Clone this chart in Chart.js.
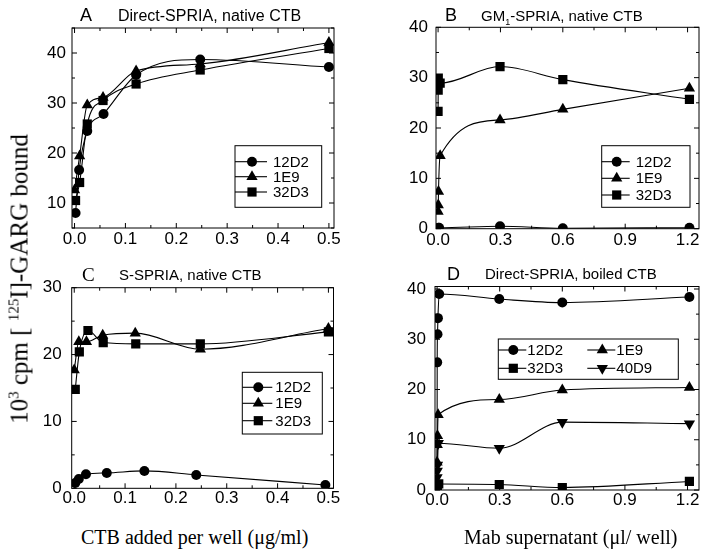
<!DOCTYPE html>
<html lang="en">
<head>
<meta charset="utf-8">
<title>SPRIA binding curves</title>
<script src="https://cdn.jsdelivr.net/npm/chart.js"></script>
<style>
  body { margin: 0; background: #fff; width: 709px; height: 555px; overflow: hidden; position: relative; }
  canvas { position: absolute; }
  .lbl { position: absolute; white-space: nowrap; line-height: 1; color: #000; }
  .sans { font-family: 'Liberation Sans', Arial, sans-serif; }
  .serif { font-family: 'Liberation Serif', 'Times New Roman', serif; }
  sup, sub { font-size: 0.6em; line-height: 0; }
</style>
</head>
<body>
<canvas id="chartA" width="354" height="250" style="left:0;top:0"></canvas>
<canvas id="chartB" width="356" height="250" style="left:353px;top:0"></canvas>
<canvas id="chartC" width="354" height="270" style="left:0;top:250px"></canvas>
<canvas id="chartD" width="356" height="270" style="left:353px;top:250px"></canvas>

<div class="lbl sans" style="left:80px;top:6px;font-size:18px">A</div>
<div class="lbl sans" style="left:118px;top:7.5px;font-size:16px">Direct-SPRIA, native CTB</div>
<div class="lbl sans" style="left:445px;top:6px;font-size:18px">B</div>
<div class="lbl sans" style="left:481px;top:7.5px;font-size:15px">GM<sub>1</sub>-SPRIA, native CTB</div>
<div class="lbl serif" style="left:82px;top:265px;font-size:19px">C</div>
<div class="lbl sans" style="left:119px;top:266.5px;font-size:15px">S-SPRIA, native CTB</div>
<div class="lbl sans" style="left:447px;top:265px;font-size:18px">D</div>
<div class="lbl sans" style="left:485px;top:265.5px;font-size:15px">Direct-SPRIA, boiled CTB</div>

<div class="lbl serif" style="left:81px;top:527px;font-size:20px">CTB added per well (μg/ml)</div>
<div class="lbl serif" style="left:464px;top:527px;font-size:20px">Mab supernatant (μl/ well)</div>
<div class="lbl serif" style="left:19px;top:279px;font-size:25px;transform:translate(-50%,-50%) rotate(-90deg)">10<sup>3</sup> cpm [ <sup>125</sup>I]-GARG bound</div>

<script>
// ---- panel A: Direct-SPRIA, native CTB ----
var xA_12D2 = [0.002, 0.009, 0.025, 0.057, 0.121, 0.247, 0.5];
var yA_12D2 = [8.0, 16.6, 24.4, 27.8, 35.6, 38.7, 37.2];
var xA_1E9  = [0.0, 0.010, 0.025, 0.056, 0.121, 0.247, 0.5];
var yA_1E9  = [12.6, 19.4, 29.6, 31.1, 36.4, 37.8, 42.1];
var xA_32D3 = [0.002, 0.010, 0.025, 0.056, 0.121, 0.247, 0.5];
var yA_32D3 = [10.5, 14.1, 25.8, 30.5, 33.8, 36.6, 40.9];

// ---- panel B: GM1-SPRIA, native CTB ----
var xB_12D2 = [0.0, 0.005, 0.298, 0.6, 1.209];
var yB_12D2 = [0.2, 0.2, 0.5, 0.1, 0.2];
var xB_1E9  = [0.0, 0.001, 0.002, 0.01, 0.298, 0.6, 1.209];
var yB_1E9  = [3.4, 4.7, 7.4, 14.5, 21.6, 23.7, 27.9];
var xB_32D3 = [0.0, 0.0005, 0.001, 0.01, 0.298, 0.6, 1.209];
var yB_32D3 = [23.3, 27.5, 29.9, 28.9, 32.2, 29.6, 25.7];

// ---- panel C: S-SPRIA, native CTB ----
var xC_12D2 = [0.002, 0.009, 0.023, 0.064, 0.138, 0.24, 0.494];
var yC_12D2 = [0.8, 1.4, 2.1, 2.3, 2.6, 2.0, 0.5];
var xC_1E9  = [0.0, 0.009, 0.024, 0.056, 0.12, 0.248, 0.5];
var yC_1E9  = [17.7, 21.9, 21.9, 22.9, 23.2, 20.8, 23.9];
var xC_32D3 = [0.002, 0.010, 0.027, 0.057, 0.121, 0.248, 0.5];
var yC_32D3 = [14.8, 20.4, 23.6, 21.8, 21.6, 21.6, 23.4];

// ---- panel D: Direct-SPRIA, boiled CTB ----
var xD_12D2 = [0.0, 0.0005, 0.002, 0.004, 0.01, 0.298, 0.6, 1.209];
var yD_12D2 = [0.8, 25.4, 31.0, 34.2, 39.0, 38.0, 37.3, 38.4];
var xD_1E9  = [0.0, 0.001, 0.002, 0.005, 0.298, 0.6, 1.209];
var yD_1E9  = [5.5, 9.0, 10.8, 15.0, 18.0, 19.9, 20.4];
var xD_32D3 = [0.0, 0.001, 0.008, 0.298, 0.6, 1.209];
var yD_32D3 = [0.2, 0.6, 1.2, 1.1, 0.5, 1.7];
var xD_40D9 = [0.0, 0.001, 0.002, 0.006, 0.298, 0.6, 1.209];
var yD_40D9 = [2.5, 3.8, 5.0, 9.3, 8.3, 13.5, 13.2];

// tick labels
var ticksCtb  = [0, 0.1, 0.2, 0.3, 0.4, 0.5];
var ticksMab  = [0, 0.3, 0.6, 0.9, 1.2];
var ticksAy   = [10, 20, 30, 40];
var ticksBy   = [0, 10, 20, 30, 40];
var ticksCy   = [0, 10, 20, 30];
var ticksDy   = [0, 10, 20, 30, 40];

var FONT = "'Liberation Sans', Arial, sans-serif";

function pts(xs, ys) {
    return xs.map((x, i) => ({ x: x, y: ys[i] }));
}

var styles = {
    '12D2': { pointStyle: 'circle', pointRadius: 5, rotation: 0 },
    '1E9':  { pointStyle: 'triangle', pointRadius: 6.5, rotation: 0 },
    '32D3': { pointStyle: 'rect', pointRadius: 6.5, rotation: 0 },
    '40D9': { pointStyle: 'triangle', pointRadius: 6.5, rotation: 180 }
};

function series(label, xs, ys) {
    var s = styles[label];
    return {
        label: label,
        data: pts(xs, ys),
        showLine: true,
        cubicInterpolationMode: 'monotone',
        borderColor: '#000',
        borderWidth: 1.1,
        pointStyle: s.pointStyle,
        pointRadius: s.pointRadius,
        rotation: s.rotation,
        pointBackgroundColor: '#000',
        pointBorderColor: '#000',
        pointBorderWidth: 0
    };
}

function drawMarker(ctx, style, x, y) {
    var r = style.pointRadius;
    ctx.beginPath();
    if (style.pointStyle === 'circle') {
        ctx.arc(x, y, r, 0, Math.PI * 2);
    } else if (style.pointStyle === 'rect') {
        var h = r * Math.SQRT1_2;
        ctx.rect(x - h, y - h, 2 * h, 2 * h);
    } else {
        var d = style.rotation ? -1 : 1;
        var w = r * Math.sin(Math.PI * 2 / 3);
        ctx.moveTo(x, y - d * r);
        ctx.lineTo(x + w, y + d * r / 2);
        ctx.lineTo(x - w, y + d * r / 2);
        ctx.closePath();
    }
    ctx.fill();
}

// frame on all four sides, inward ticks, and the boxed legend
var framePlugin = {
    id: 'frame',
    beforeDatasetsDraw(chart, args, opts) {
        var ctx = chart.ctx, a = chart.chartArea;
        var sx = chart.scales.x, sy = chart.scales.y;
        ctx.save();
        ctx.strokeStyle = '#000';
        ctx.lineWidth = 1;
        ctx.strokeRect(a.left, a.top, a.right - a.left, a.bottom - a.top);
        ctx.beginPath();
        var majX = sx.ticks.map(t => t.value), majY = sy.ticks.map(t => t.value);
        var isMaj = (list, v) => list.some(m => Math.abs(m - v) < 1e-6);
        for (var v = Math.ceil(sx.min / opts.minorX - 1e-6) * opts.minorX; v <= sx.max + 1e-9; v += opts.minorX) {
            var px = sx.getPixelForValue(v), len = isMaj(majX, v) ? 5 : 3;
            ctx.moveTo(px, a.bottom); ctx.lineTo(px, a.bottom - len);
            ctx.moveTo(px, a.top); ctx.lineTo(px, a.top + len);
        }
        for (var w = Math.ceil(sy.min / opts.minorY - 1e-6) * opts.minorY; w <= sy.max + 1e-9; w += opts.minorY) {
            var py = sy.getPixelForValue(w), l2 = isMaj(majY, w) ? 5 : 3;
            ctx.moveTo(a.left, py); ctx.lineTo(a.left + l2, py);
            ctx.moveTo(a.right, py); ctx.lineTo(a.right - l2, py);
        }
        ctx.stroke();
        ctx.restore();
    },
    afterDraw(chart, args, opts) {
        var lg = opts.legend;
        if (!lg) return;
        var ctx = chart.ctx;
        ctx.save();
        ctx.fillStyle = '#fff';
        ctx.fillRect(lg.box[0], lg.box[1], lg.box[2] - lg.box[0], lg.box[3] - lg.box[1]);
        ctx.strokeStyle = '#000';
        ctx.lineWidth = 1;
        ctx.strokeRect(lg.box[0], lg.box[1], lg.box[2] - lg.box[0], lg.box[3] - lg.box[1]);
        ctx.font = '15px ' + FONT;
        ctx.textBaseline = 'middle';
        chart.data.datasets.forEach((ds, i) => {
            var col = i % lg.cols.length, row = Math.floor(i / lg.cols.length);
            var x0 = lg.cols[col], y0 = lg.rows[row];
            var mx = x0 + lg.markerDx;
            ctx.strokeStyle = '#000';
            ctx.lineWidth = 1.1;
            ctx.beginPath();
            ctx.moveTo(x0, y0); ctx.lineTo(mx + lg.markerDx - 2, y0);
            ctx.stroke();
            ctx.fillStyle = '#000';
            drawMarker(ctx, styles[ds.label], mx, y0);
            ctx.fillText(ds.label, mx + lg.textDx, y0 + 1);
        });
        ctx.restore();
    }
};

function makeChart(id, datasets, cfg) {
    return new Chart(document.getElementById(id), {
        type: 'scatter',
        data: { datasets: datasets },
        options: {
            responsive: false,
            animation: false,
            layout: { padding: { left: 0, top: cfg.top, right: cfg.right, bottom: 0 } },
            plugins: {
                legend: { display: false },
                tooltip: { enabled: false },
                frame: { minorX: cfg.minorX, minorY: cfg.minorY, legend: cfg.legend }
            },
            scales: {
                x: {
                    type: 'linear', min: cfg.xmin, max: cfg.xmax,
                    grid: { display: false, drawTicks: false },
                    border: { display: false },
                    ticks: {
                        color: '#000', font: { family: FONT, size: 17 }, padding: cfg.xpad,
                        autoSkip: false, maxRotation: 0,
                        callback: v => Number(v).toFixed(1)
                    },
                    afterBuildTicks: s => { s.ticks = cfg.xticks.map(v => ({ value: v })); },
                    afterFit: s => { s.height = cfg.xh; }
                },
                y: {
                    type: 'linear', min: cfg.ymin, max: cfg.ymax,
                    grid: { display: false, drawTicks: false },
                    border: { display: false },
                    ticks: {
                        color: '#000', font: { family: FONT, size: 17 }, padding: cfg.ypad,
                        autoSkip: false,
                        callback: v => String(v)
                    },
                    afterBuildTicks: s => { s.ticks = cfg.yticks.map(v => ({ value: v })); },
                    afterFit: s => { s.width = cfg.yw; }
                }
            }
        },
        plugins: [framePlugin]
    });
}

makeChart('chartA', [
    series('12D2', xA_12D2, yA_12D2),
    series('1E9', xA_1E9, yA_1E9),
    series('32D3', xA_32D3, yA_32D3)
], {
    top: 28, right: 20, yw: 72, xh: 22, xpad: 1, ypad: 6,
    xmin: -0.005, xmax: 0.51, ymin: 5, ymax: 45,
    xticks: ticksCtb, yticks: ticksAy, minorX: 0.05, minorY: 5,
    legend: { box: [235, 145.7, 321.7, 207.3], cols: [235], rows: [161.7, 176.7, 192], markerDx: 17, textDx: 21 }
});

makeChart('chartB', [
    series('12D2', xB_12D2, yB_12D2),
    series('1E9', xB_1E9, yB_1E9),
    series('32D3', xB_32D3, yB_32D3)
], {
    top: 27.3, right: 10, yw: 83, xh: 21.3, xpad: 1, ypad: 8,
    xmin: -0.01, xmax: 1.255, ymin: 0, ymax: 40,
    xticks: ticksMab, yticks: ticksBy, minorX: 0.15, minorY: 5,
    legend: { box: [248.7, 145.7, 337, 207.3], cols: [248.7], rows: [161.7, 178.3, 195], markerDx: 15, textDx: 19 }
});

makeChart('chartC', [
    series('12D2', xC_12D2, yC_12D2),
    series('1E9', xC_1E9, yC_1E9),
    series('32D3', xC_32D3, yC_32D3)
], {
    top: 37.7, right: 20.5, yw: 71.7, xh: 31.7, xpad: 0, ypad: 10,
    xmin: -0.005, xmax: 0.51, ymin: 0, ymax: 30,
    xticks: ticksCtb, yticks: ticksCy, minorX: 0.05, minorY: 5,
    legend: { box: [242.3, 122.3, 322.3, 184], cols: [242.3], rows: [137.3, 153.3, 170.7], markerDx: 16, textDx: 17 }
});

makeChart('chartD', [
    series('12D2', xD_12D2, yD_12D2),
    series('1E9', xD_1E9, yD_1E9),
    series('32D3', xD_32D3, yD_32D3),
    series('40D9', xD_40D9, yD_40D9)
], {
    top: 36.5, right: 10, yw: 82, xh: 30, xpad: 0, ypad: 9,
    xmin: -0.01, xmax: 1.255, ymin: 0, ymax: 40.5,
    xticks: ticksMab, yticks: ticksDy, minorX: 0.15, minorY: 5,
    legend: { box: [145.3, 89, 325.3, 129.3], cols: [145.3, 234.3], rows: [100, 118.3], markerDx: 15, textDx: 14 }
});
</script>
</body>
</html>
